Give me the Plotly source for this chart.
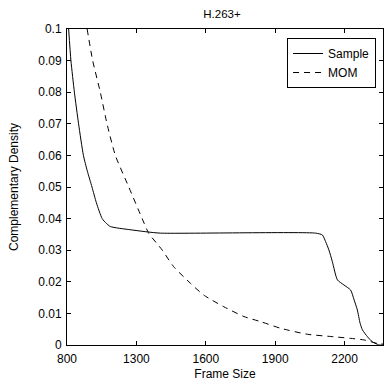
import plotly.graph_objects as go

# Tick values and labels
x_tickvals = [1000, 1300, 1600, 1900, 2200]
x_ticktext = ["800", "1300", "1600", "1900", "2200"]
y_tickvals = [0, 0.01, 0.02, 0.03, 0.04, 0.05, 0.06, 0.07, 0.08, 0.09, 0.1]
y_ticktext = ["0", "0.01", "0.02", "0.03", "0.04", "0.05", "0.06", "0.07", "0.08", "0.09", "0.1"]

# Sample series
sample_x = [1007, 1017, 1032, 1050, 1071, 1088, 1108, 1127, 1152, 1170, 1187, 1220, 1260, 1346, 1404,
            2075, 2104, 2118, 2132, 2147, 2169, 2197, 2226, 2241, 2255, 2267, 2277, 2299, 2320, 2342, 2348, 2366]
sample_y = [0.1, 0.09, 0.08, 0.07, 0.06, 0.055, 0.05, 0.045, 0.04, 0.0385, 0.0375, 0.037, 0.0366, 0.0358, 0.0354,
            0.0354, 0.0348, 0.0327, 0.0301, 0.0264, 0.0206, 0.019, 0.0174, 0.0143, 0.0111, 0.0069, 0.0048,
            0.0026, 0.001, 0.0002, 0.0, 0.0]

# MOM series
mom_x = [1087, 1111, 1144, 1173, 1209, 1267, 1325, 1353, 1411, 1461, 1534, 1591, 1678, 1765, 1837,
         1923, 2039, 2154, 2226, 2284, 2342, 2366]
mom_y = [0.1, 0.09, 0.08, 0.07, 0.06, 0.05, 0.04, 0.0354, 0.0301, 0.0248, 0.0195, 0.0158, 0.0121, 0.009,
         0.0074, 0.0053, 0.0034, 0.0026, 0.0021, 0.0016, 0.0005, 0.0003]

FONT = "Liberation Sans, Arial, sans-serif"

fig = go.Figure()
fig.add_trace(go.Scatter(x=sample_x, y=sample_y, mode="lines", name="Sample",
                         line=dict(color="black", width=1, shape="spline", smoothing=0.6)))
fig.add_trace(go.Scatter(x=mom_x, y=mom_y, mode="lines", name="MOM",
                         line=dict(color="black", width=1, dash="6px,5px", shape="spline", smoothing=0.6)))

fig.update_layout(
    width=386, height=387,
    margin=dict(l=67, r=3, t=29, b=42),
    paper_bgcolor="white", plot_bgcolor="white",
    font=dict(family=FONT, size=12, color="black"),
    title=dict(text="H.263+", x=222 / 386, xanchor="center", y=1 - 14 / 387, yanchor="middle",
               font=dict(family=FONT, size=11.5, color="black")),
    showlegend=True,
    legend=dict(x=0.978, xanchor="right", y=0.9715, yanchor="top",
                bgcolor="white", bordercolor="black", borderwidth=1,
                font=dict(family=FONT, size=12, color="black"),
                tracegroupgap=0, itemwidth=30),
    xaxis=dict(range=[1000, 2366], tickvals=x_tickvals, ticktext=x_ticktext,
               showgrid=False, zeroline=False, showline=True, linecolor="black", linewidth=1,
               mirror="ticks", ticks="inside", ticklen=4, tickcolor="black", ticklabelstandoff=3,
               title=dict(text="Frame Size", standoff=4, font=dict(family=FONT, size=12)),
               tickfont=dict(family=FONT, size=12)),
    yaxis=dict(range=[0, 0.1], tickvals=y_tickvals, ticktext=y_ticktext,
               showgrid=False, zeroline=False, showline=True, linecolor="black", linewidth=1,
               mirror="ticks", ticks="inside", ticklen=4, tickcolor="black", ticklabelstandoff=2,
               title=dict(text="Complementary Density", standoff=17, font=dict(family=FONT, size=12)),
               tickfont=dict(family=FONT, size=12)),
)

fig.write_html("out.html")
